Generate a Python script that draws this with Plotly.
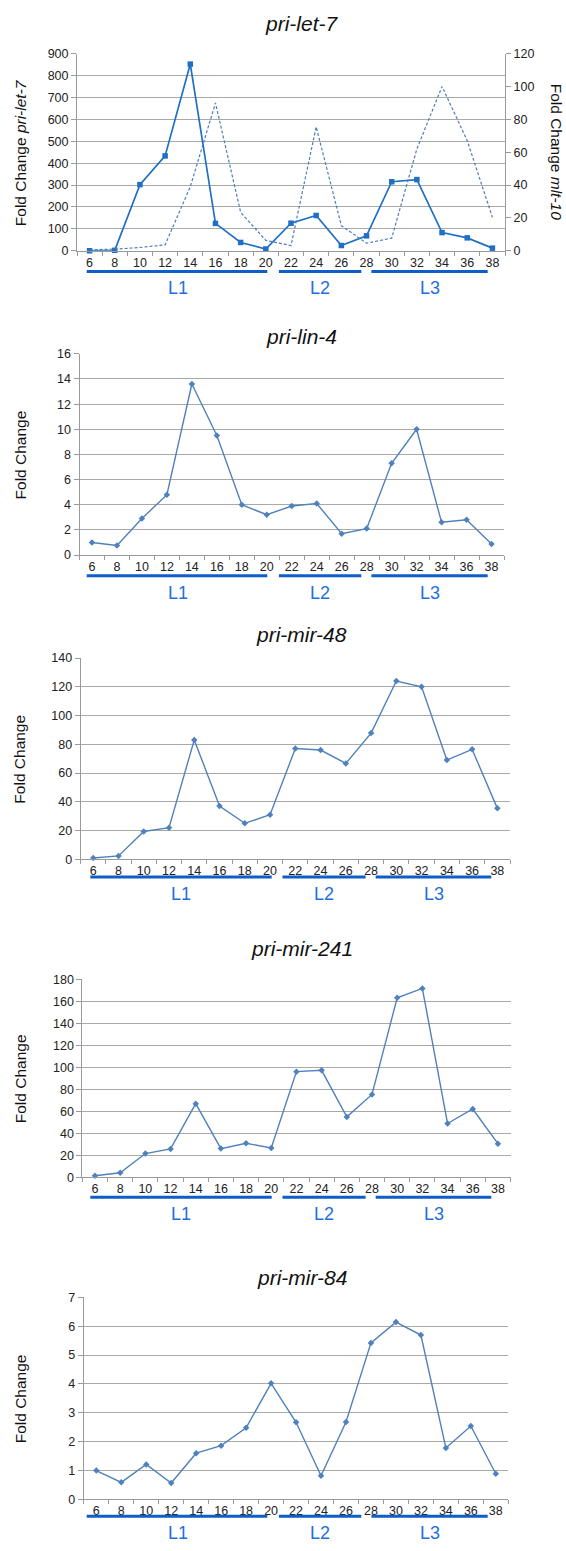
import plotly.graph_objects as go

W, H = 566, 1551

hours = [6, 8, 10, 12, 14, 16, 18, 20, 22, 24, 26, 28, 30, 32, 34, 36, 38]

let7 = [0, 2, 302, 433, 852, 125, 38, 8, 126, 161, 24, 68, 315, 325, 83, 59, 12]
mlt10 = [0.6, 1, 2, 3.6, 39, 90, 23.4, 6.3, 3.2, 75.4, 15.3, 4.6, 7.7, 62, 100, 67, 20.4]
lin4 = [1.0, 0.76, 2.9, 4.8, 13.6, 9.5, 4.0, 3.2, 3.9, 4.1, 1.7, 2.1, 7.3, 10.0, 2.6, 2.8, 0.87]
mir48 = [0.9, 2.3, 19.3, 22, 83, 37, 25, 31, 77, 76, 66.7, 87.8, 124, 120, 69, 76.5, 35.4]
mir241 = [1.5, 4.2, 21.6, 25.8, 66.9, 26.1, 30.9, 26.7, 96, 97.2, 54.9, 75.3, 163, 171.6, 48.9, 62.1, 30.6]
mir84 = [1.0, 0.59, 1.21, 0.57, 1.6, 1.86, 2.48, 4.02, 2.67, 0.82, 2.68, 5.42, 6.14, 5.69, 1.78, 2.54, 0.89]

titles = ["pri-let-7", "pri-lin-4", "pri-mir-48", "pri-mir-241", "pri-mir-84"]
stage_labels = ["L1", "L2", "L3"]

# panel geometry in pixels: (left, right, top, bottom)
panels = [(77, 505, 47, 246), (79.5, 504, 350, 553), (80.6, 510, 657, 860),
          (82.4, 510.5, 981, 1181), (83.8, 508.3, 1302, 1506)]
ymax = [900, 16, 140, 180, 7]
ydtick = [100, 2, 20, 20, 1]
title_y = [17, 332, 633, 950, 1282]
bar_y = [267, 574, 878, 1201, 1523]
bar_a = [(86.7, 267.3), (278.9, 361.3), (371.4, 487.7)]
bar_b = [(90.3, 271.7), (282.5, 365.6), (375.7, 491.3)]
bars_px = [bar_a, bar_a, bar_b, bar_b, bar_a]
lab_a = [178, 320.4, 430]
lab_b = [181.4, 324, 433.5]
labs_px = [lab_a, lab_a, lab_b, lab_b, lab_a]

def px(x):
    return x / W

def py(y):
    return 1 - y / H

fig = go.Figure()
series = [let7, lin4, mir48, mir241, mir84]

GRID = "#a9a9a9"
AX = "#9a9a9a"
FONT = "Liberation Sans, Arial, sans-serif"
XTICKFONT = dict(family=FONT, size=12.5, color="#222")
YTICKFONT = dict(family=FONT, size=12.5, color="#222")

for i, (l, r, t, b) in enumerate(panels):
    xa = "x" if i == 0 else f"x{i+1}"
    ya = "y" if i == 0 else f"y{i+1}"
    if i == 0:
        fig.add_trace(go.Scatter(x=hours, y=series[i], xaxis=xa, yaxis=ya, mode="lines+markers",
                                 line=dict(color="#1f6fc5", width=1.7),
                                 marker=dict(symbol="square", size=5.5, color="#1f6fc5"),
                                 showlegend=False, cliponaxis=False))
    else:
        fig.add_trace(go.Scatter(x=hours, y=series[i], xaxis=xa, yaxis=ya, mode="lines+markers",
                                 line=dict(color="#4f81bd", width=1.4),
                                 marker=dict(symbol="diamond", size=5, color="#4f81bd"),
                                 showlegend=False, cliponaxis=False))
    xkey = "xaxis" if i == 0 else f"xaxis{i+1}"
    ykey = "yaxis" if i == 0 else f"yaxis{i+1}"
    fig.layout[xkey] = dict(domain=[px(l), px(r)], anchor=ya, range=[5, 39],
                            tickvals=hours, ticktext=[str(h) for h in hours],
                            ticks="", showgrid=False, zeroline=False,
                            showline=True, linecolor=AX, linewidth=1,
                            tickfont=XTICKFONT, fixedrange=True,
                            minor=dict(tickvals=list(range(5, 40, 2)), ticks="outside",
                                       ticklen=4, tickcolor=AX, showgrid=False))
    fig.layout[ykey] = dict(domain=[py(b), py(t)], anchor=xa, range=[0, ymax[i]],
                            dtick=ydtick[i], tick0=0, showgrid=True, gridcolor=GRID,
                            gridwidth=1.2, zeroline=False, showline=True, linecolor=AX,
                            linewidth=1, ticks="outside", ticklen=5, tickcolor=AX,
                            tickfont=YTICKFONT, fixedrange=True)
    # title
    fig.add_annotation(text=f"<i>{titles[i]}</i>", xref="paper", yref="paper",
                       x=px(301.7), y=py(title_y[i]), showarrow=False,
                       font=dict(family=FONT, size=21, color="#111"),
                       xanchor="center", yanchor="middle")
    # y title
    ytxt = "Fold Change <i>pri-let-7</i>" if i == 0 else "Fold Change"
    fig.add_annotation(text=ytxt, xref="paper", yref="paper", x=px(20), y=py((t + b) / 2 + 1),
                       showarrow=False, textangle=-90,
                       font=dict(family=FONT, size=15.5, color="#111"),
                       xanchor="center", yanchor="middle")
    # stage bars & labels
    yb = bar_y[i]
    for (x0, x1), lx, s in zip(bars_px[i], labs_px[i], stage_labels):
        fig.add_shape(type="line", xref="paper", yref="paper", x0=px(x0), x1=px(x1),
                      y0=py(yb), y1=py(yb), line=dict(color="#0d5ec9", width=3))
        fig.add_annotation(text=s, xref="paper", yref="paper", x=px(lx), y=py(yb + 17),
                           showarrow=False, xanchor="center", yanchor="middle",
                           font=dict(family=FONT, size=18, color="#1f6fe0"))

# secondary axis for mlt-10
fig.add_trace(go.Scatter(x=hours, y=mlt10, xaxis="x", yaxis="y6", mode="lines",
                         line=dict(color="#4a7ebb", width=1.2, dash="3px,2px"),
                         showlegend=False, cliponaxis=False))
fig.layout["yaxis6"] = dict(overlaying="y", side="right", anchor="x", range=[0, 120], dtick=20,
                            showgrid=False, zeroline=False, showline=True, linecolor=AX,
                            linewidth=1, ticks="outside", ticklen=5, tickcolor=AX,
                            tickfont=YTICKFONT, fixedrange=True)
fig.add_annotation(text="Fold Change <i>mlt-10</i>", xref="paper", yref="paper", x=px(556),
                   y=py(146), showarrow=False, textangle=90,
                   font=dict(family=FONT, size=15.5, color="#111"),
                   xanchor="center", yanchor="middle")

fig.update_layout(width=W, height=H, margin=dict(l=0, r=0, t=0, b=0),
                  paper_bgcolor="white", plot_bgcolor="white", showlegend=False)

fig.write_html("out.html", config={"displayModeBar": False},
               post_script="document.documentElement.style.margin='0';"
                           "document.body.style.margin='0';"
                           "document.body.style.overflow='hidden';")
